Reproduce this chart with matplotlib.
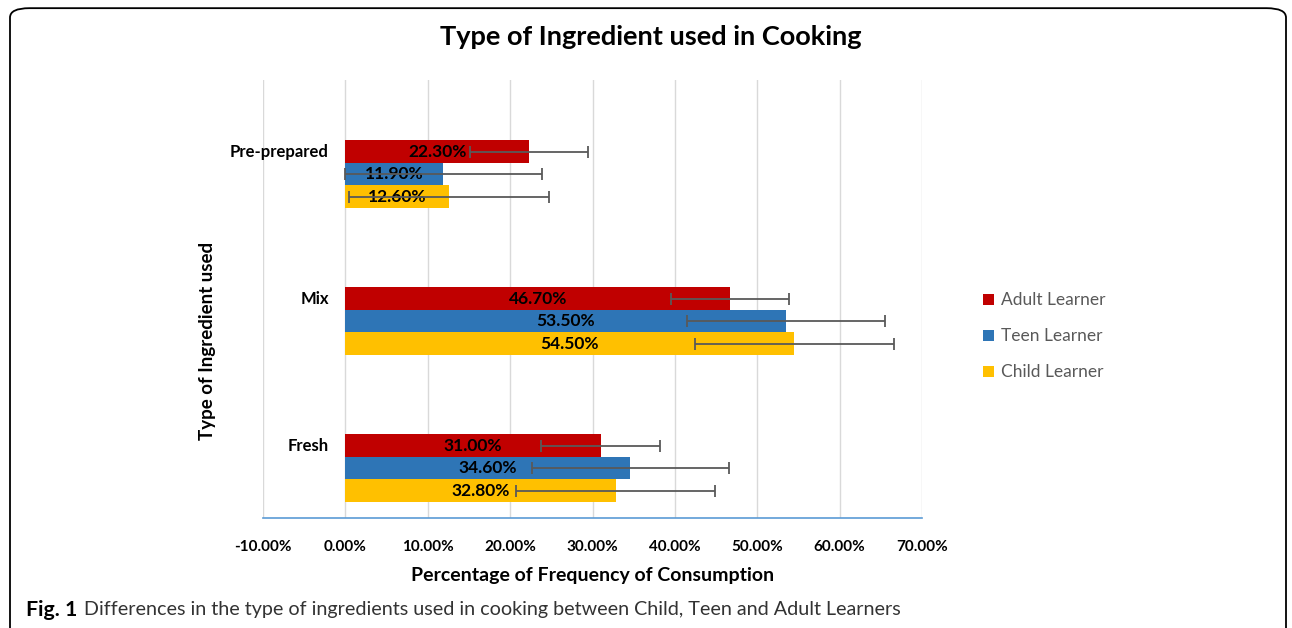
import matplotlib.pyplot as plt
import numpy as np
from matplotlib.patches import FancyBboxPatch

plt.rcParams['font.family'] = ['Lato', 'DejaVu Sans']

categories = ["Fresh", "Mix", "Pre-prepared"]
groups = ["Adult Learner", "Teen Learner", "Child Learner"]
adult = [31.0, 46.7, 22.3]
teen = [34.6, 53.5, 11.9]
child = [32.8, 54.5, 12.6]
adult_err = [7.2, 7.2, 7.2]
teen_err = [12.0, 12.0, 12.0]
child_err = [12.1, 12.1, 12.1]
xticks = [-10, 0, 10, 20, 30, 40, 50, 60, 70]

colors = ["#C00000", "#2E75B6", "#FFC000"]
offsets = [0.153, 0.0, -0.153]
series = [adult, teen, child]
errors = [adult_err, teen_err, child_err]

fig = plt.figure(figsize=(12.92, 6.28), dpi=100)

# rounded frame around the figure
frame = FancyBboxPatch((10 / 1292, -0.1), 1276 / 1292, 1.087,
                       boxstyle="round,pad=0,rounding_size=0.015",
                       transform=fig.transFigure, fill=False,
                       edgecolor="black", linewidth=1.3)
fig.patches.append(frame)

ax = fig.add_axes([263 / 1292, 1 - 518 / 628, 659 / 1292, 438 / 628])
y = np.arange(len(categories))
h = 0.152

for vals, errs, col, off, name in zip(series, errors, colors, offsets, groups):
    ax.barh(y + off, vals, height=h, color=col, label=name, zorder=2)
    ax.errorbar(vals, y + off, xerr=errs, fmt="none", ecolor="#595959",
                elinewidth=1.3, capsize=4, capthick=1.3, zorder=4)
    for v, yy in zip(vals, y + off):
        ax.text(v / 2, yy, f"{v:.2f}%", ha="center", va="center",
                fontsize=12.5, fontweight="bold", color="black", zorder=3)

# category labels sit next to the value axis crossing at 0, level with the top bar
for cat, yy in zip(categories, y + offsets[0]):
    ax.annotate(cat, (0, yy), xytext=(-12, 0), textcoords="offset points",
                ha="right", va="center", fontsize=12, fontweight="bold")

ax.set_xlim(-10, 70)
ax.set_ylim(-0.34, 2.64)
ax.set_xticks(xticks)
ax.set_xticklabels([f"{t:.2f}%" for t in xticks], fontsize=11, fontweight="bold")
ax.set_yticks([])
ax.tick_params(axis="x", length=0, pad=16)
ax.grid(axis="x", color="#D9D9D9", linewidth=1, zorder=0)
ax.set_axisbelow(True)
for s in ["top", "right", "left"]:
    ax.spines[s].set_visible(False)
ax.spines["bottom"].set_color("#5B9BD5")
ax.spines["bottom"].set_linewidth(1.2)

ax.set_xlabel("Percentage of Frequency of Consumption", fontsize=14,
              fontweight="bold", labelpad=9)
fig.text(207 / 1292, 1 - 341 / 628, "Type of Ingredient used", rotation=90,
         ha="center", va="center", fontsize=13.5, fontweight="bold")

fig.text(651 / 1292, 1 - 37 / 628, "Type of Ingredient used in Cooking",
         ha="center", va="center", fontsize=19.5, fontweight="bold")

leg = ax.legend(loc="center left", bbox_to_anchor=(1.069, 0.415), frameon=False,
                fontsize=12.5, handlelength=0.6, handleheight=0.6,
                labelspacing=1.15, handletextpad=0.45)
for t in leg.get_texts():
    t.set_color("#595959")

fig.text(26 / 1292, 1 - 610 / 628, "Fig. 1", ha="left", va="center",
         fontsize=15.4, fontweight="bold")
fig.text(84 / 1292, 1 - 610 / 628,
         "Differences in the type of ingredients used in cooking between Child, Teen and Adult Learners",
         ha="left", va="center", fontsize=14.2, color="#333333")

fig.savefig("out.png", dpi=100)
